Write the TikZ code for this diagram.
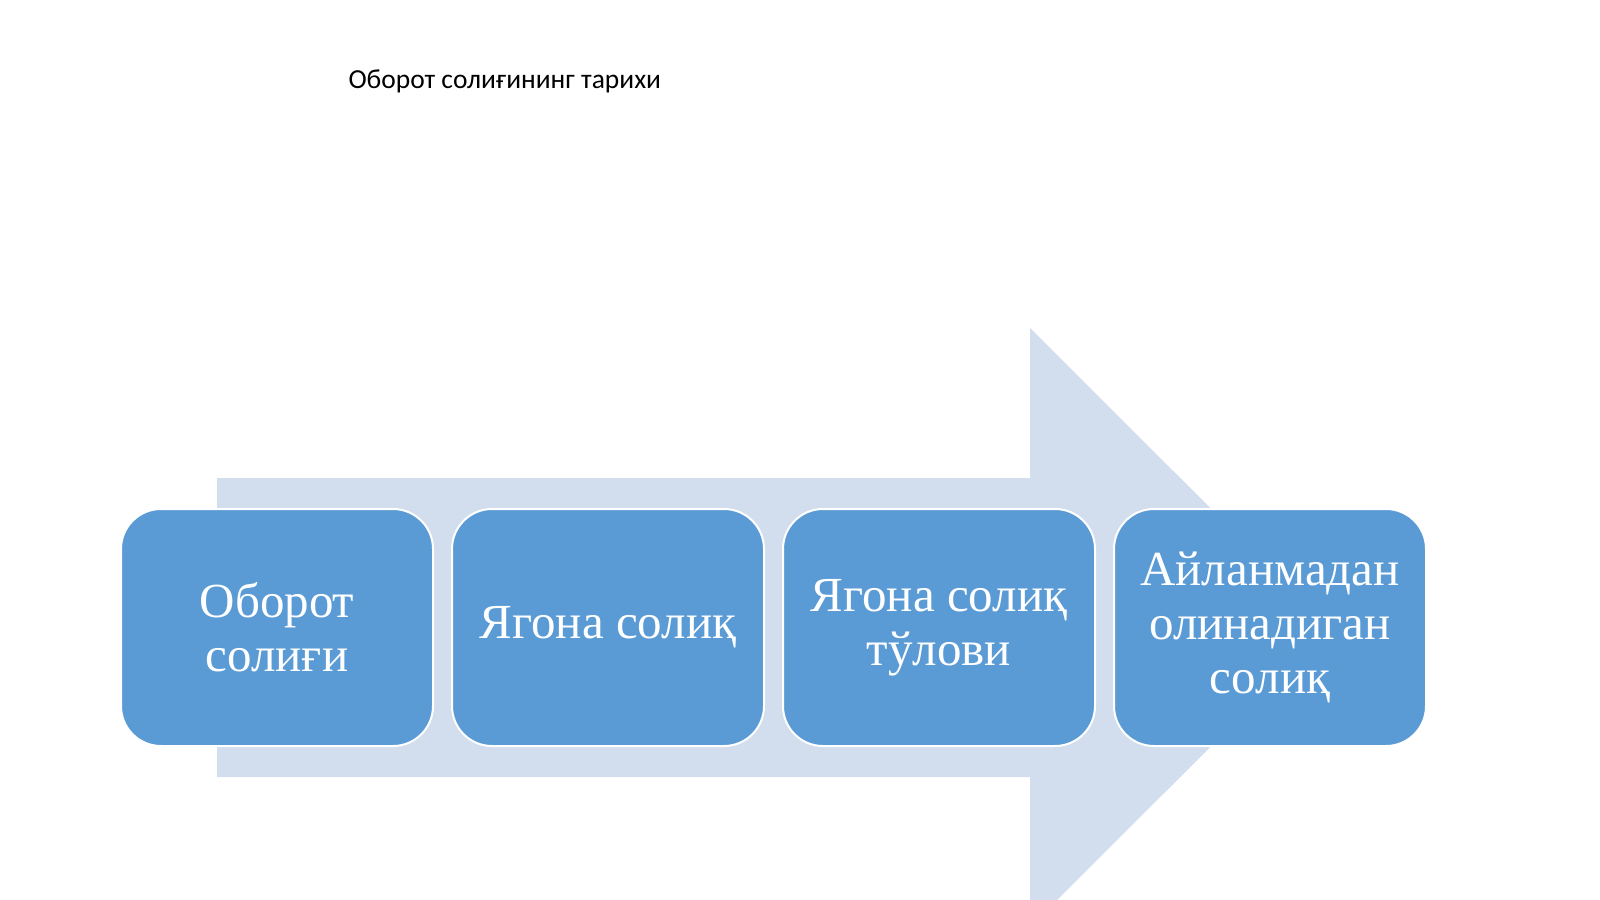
\documentclass[tikz,border=0pt]{standalone}
\usepackage{fontspec}
\setmainfont{Liberation Serif}
\newfontfamily\titlefont{Carlito}
\definecolor{boxblue}{HTML}{5B9BD5}
\definecolor{arrowblue}{HTML}{D2DEEE}
\begin{document}
\begin{tikzpicture}[x=1pt,y=-1pt,
  stepbox/.style={draw=white,line width=2pt,fill=boxblue,rounded corners=40pt,minimum width=312pt,minimum height=237pt,text=white,align=center,font=\fontsize{49}{54}\selectfont,inner sep=0pt}]
\useasboundingbox (0,0) rectangle (1600,899);
\begin{scope}
\clip (0,0) rectangle (1600,899);
\fill[arrowblue] (217,478) -- (1030,478) -- (1030,328) -- (1330,627.5) -- (1030,927) -- (1030,777) -- (217,777) -- cycle;
\end{scope}
\node[anchor=west,font=\titlefont\fontsize{27.5}{32}\selectfont] (title) at (345,81) {Оборот солиғининг тарихи};
\node[stepbox] (a) at (277,627.5) {Оборот\\солиғи};
\node[stepbox] (b) at (608,627.5) {Ягона солиқ};
\node[stepbox] (c) at (939,627.5) {Ягона солиқ\\тўлови};
\node[stepbox] (d) at (1270,627.5) {Айланмадан\\олинадиган\\солиқ};
\end{tikzpicture}
\end{document}
